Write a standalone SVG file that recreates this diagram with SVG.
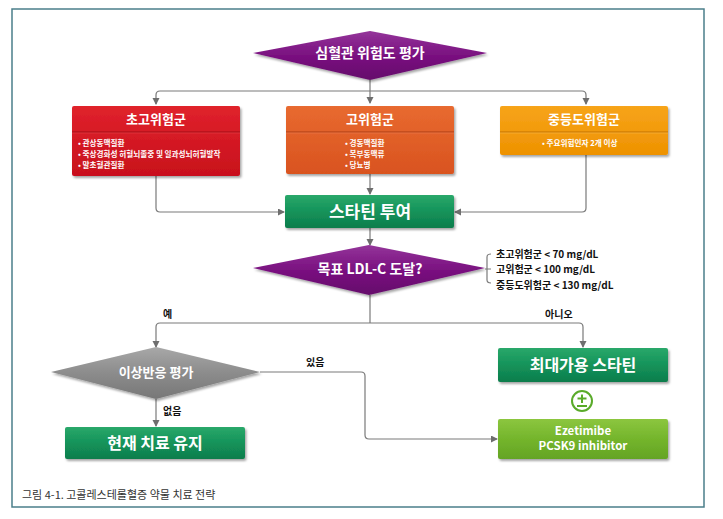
<svg xmlns="http://www.w3.org/2000/svg" width="723" height="519" viewBox="0 0 723 519">
<defs>
<style>
.t{font-family:"Noto Sans CJK KR","Noto Sans",sans-serif;font-weight:bold;fill:#fff;text-anchor:middle}
.s{font-family:"Noto Sans CJK KR","Noto Sans",sans-serif;font-weight:bold;fill:#fff;font-size:7.6px}
.k{font-family:"Noto Sans CJK KR","Noto Sans",sans-serif;font-weight:bold;fill:#111;font-size:10px}
.c{fill:none;stroke:#7a7a7a;stroke-width:1.2}
</style>
<marker id="a" markerWidth="8" markerHeight="8" refX="6" refY="3.5" orient="auto" markerUnits="userSpaceOnUse"><path d="M0,0 L7,3.5 L0,7 z" fill="#6e6e6e"/></marker>
<filter id="sh" x="-10%" y="-10%" width="130%" height="140%"><feDropShadow dx="1.5" dy="2" stdDeviation="1.2" flood-color="#000" flood-opacity="0.35"/></filter>
<linearGradient id="gp" x1="0" y1="0" x2="0" y2="1"><stop offset="0" stop-color="#94359a"/><stop offset="0.5" stop-color="#7a1180"/><stop offset="1" stop-color="#650c6b"/></linearGradient>
<linearGradient id="gg" x1="0" y1="0" x2="0" y2="1"><stop offset="0" stop-color="#a8a8a8"/><stop offset="0.5" stop-color="#8c8c8c"/><stop offset="1" stop-color="#777"/></linearGradient>
<linearGradient id="gn" x1="0" y1="0" x2="0" y2="1"><stop offset="0" stop-color="#2aa86a"/><stop offset="0.5" stop-color="#14935a"/><stop offset="1" stop-color="#0e7d4c"/></linearGradient>
<linearGradient id="gl" x1="0" y1="0" x2="0" y2="1"><stop offset="0" stop-color="#8cc63f"/><stop offset="0.5" stop-color="#74b52c"/><stop offset="1" stop-color="#64a424"/></linearGradient>
<linearGradient id="gr" x1="0" y1="0" x2="0" y2="1"><stop offset="0" stop-color="#e0222c"/><stop offset="1" stop-color="#c8101c"/></linearGradient>
<linearGradient id="go" x1="0" y1="0" x2="0" y2="1"><stop offset="0" stop-color="#e86a30"/><stop offset="1" stop-color="#d9531f"/></linearGradient>
<linearGradient id="gy" x1="0" y1="0" x2="0" y2="1"><stop offset="0" stop-color="#f7a41a"/><stop offset="1" stop-color="#ee9200"/></linearGradient>
</defs>
<rect width="723" height="519" fill="#fff"/>
<path d="M12,9 H704 V507 H12 Z" fill="none" stroke="#4b7f8b" stroke-width="1.5"/>

<g id="connectors">
<path class="c" d="M370,80 V103" marker-end="url(#a)"/>
<path class="c" d="M370,91 H160 Q156,91 156,95 V104" marker-end="url(#a)"/>
<path class="c" d="M370,91 H582 Q586,91 586,95 V104" marker-end="url(#a)"/>
<path class="c" d="M156,176 V208 Q156,212 160,212 H284" marker-end="url(#a)"/>
<path class="c" d="M586,155 V208 Q586,212 582,212 H455" marker-end="url(#a)"/>
<path class="c" d="M370,174 V194" marker-end="url(#a)"/>
<path class="c" d="M370,228 V245" marker-end="url(#a)"/>
<path class="c" d="M370,295 V323"/>
<path class="c" d="M370,323 H160 Q156,323 156,327 V347" marker-end="url(#a)"/>
<path class="c" d="M370,323 H579 Q583,323 583,327 V347" marker-end="url(#a)"/>
<path class="c" d="M156,399 V426" marker-end="url(#a)"/>
<path class="c" d="M260,372 H361 Q365,372 365,376 V435 Q365,439 369,439 H497" marker-end="url(#a)"/>
<path class="c" d="M491,254 Q487,254 487,257 V280 Q487,283 491,283 M485,269 H491"/>
<text class="k" x="163" y="318">예</text>
<text class="k" x="545" y="318">아니오</text>
<text class="k" x="306" y="366">있음</text>
<text class="k" x="163" y="415">없음</text>
</g>

<g id="n-risk">
<path d="M253,53 L370,31 L487,53 L370,80 Z" fill="url(#gp)" filter="url(#sh)"/>
<text class="t" x="370" y="58" font-size="14">심혈관 위험도 평가</text>
</g>

<g id="n-very-high">
<rect x="72" y="106" width="168" height="70" rx="2" fill="url(#gr)" filter="url(#sh)"/>
<path d="M72,132 H240" stroke="#9e0c14" stroke-width="1"/>
<path d="M72,133 H240" stroke="#e8454c" stroke-width="0.6"/>
<text class="t" x="156" y="124" font-size="13">초고위험군</text>
<text class="s" x="78" y="146">• 관상동맥질환</text>
<text class="s" x="78" y="157">• 죽상경화성 허혈뇌졸중 및 일과성뇌허혈발작</text>
<text class="s" x="78" y="168">• 말초혈관질환</text>
</g>

<g id="n-high">
<rect x="286" y="106" width="168" height="68" rx="2" fill="url(#go)" filter="url(#sh)"/>
<path d="M286,132 H454" stroke="#a93d12" stroke-width="1"/>
<path d="M286,133 H454" stroke="#ee8050" stroke-width="0.6"/>
<text class="t" x="370" y="124" font-size="13">고위험군</text>
<text class="s" x="345" y="146">• 경동맥질환</text>
<text class="s" x="345" y="157">• 복부동맥류</text>
<text class="s" x="345" y="168">• 당뇨병</text>
</g>

<g id="n-moderate">
<rect x="500" y="106" width="168" height="49" rx="2" fill="url(#gy)" filter="url(#sh)"/>
<path d="M500,132 H668" stroke="#c07000" stroke-width="1"/>
<path d="M500,133 H668" stroke="#f8b84a" stroke-width="0.6"/>
<text class="t" x="584" y="124" font-size="13">중등도위험군</text>
<text class="s" x="542" y="146">• 주요위험인자 2개 이상</text>
</g>

<g id="n-statin">
<rect x="285" y="195" width="169" height="33" rx="2" fill="url(#gn)" filter="url(#sh)"/>
<text class="t" x="370" y="218" font-size="17">스타틴 투여</text>
</g>

<g id="n-goal">
<path d="M253,268 L369,245 L485,268 L369,295 Z" fill="url(#gp)" filter="url(#sh)"/>
<text class="t" x="370" y="274" font-size="14">목표 LDL-C 도달?</text>
<text class="k" x="496" y="258">초고위험군 &lt; 70 mg/dL</text>
<text class="k" x="496" y="273">고위험군 &lt; 100 mg/dL</text>
<text class="k" x="496" y="289">중등도위험군 &lt; 130 mg/dL</text>
</g>

<g id="n-adverse">
<path d="M51,372 L156,347 L260,372 L156,399 Z" fill="url(#gg)" filter="url(#sh)"/>
<text class="t" x="156" y="377" font-size="13" fill="#f2f2f2">이상반응 평가</text>
</g>

<g id="n-maintain">
<rect x="65" y="427" width="180" height="32" rx="2" fill="url(#gn)" filter="url(#sh)"/>
<text class="t" x="155" y="449" font-size="16">현재 치료 유지</text>
</g>

<g id="n-max-statin">
<rect x="498" y="348" width="170" height="34" rx="2" fill="url(#gn)" filter="url(#sh)"/>
<text class="t" x="583" y="371" font-size="16">최대가용 스타틴</text>
</g>

<g id="n-plusminus">
<circle cx="582" cy="401" r="10" fill="#fff" stroke="#5aab2a" stroke-width="2"/>
<path d="M582,394.5 V403 M577.5,398.5 H586.5 M577,406 H587" stroke="#5aab2a" stroke-width="2" fill="none"/>
</g>

<g id="n-addon">
<rect x="498" y="419" width="170" height="40" rx="2" fill="url(#gl)" filter="url(#sh)"/>
<text class="t" x="583" y="435" font-size="11.5">Ezetimibe</text>
<text class="t" x="583" y="450" font-size="11.5">PCSK9 inhibitor</text>
</g>

<text x="22" y="499" font-family="'Noto Sans CJK KR','Noto Sans',sans-serif" font-size="11" fill="#333">그림 4-1. 고콜레스테롤혈증 약물 치료 전략</text>
</svg>
